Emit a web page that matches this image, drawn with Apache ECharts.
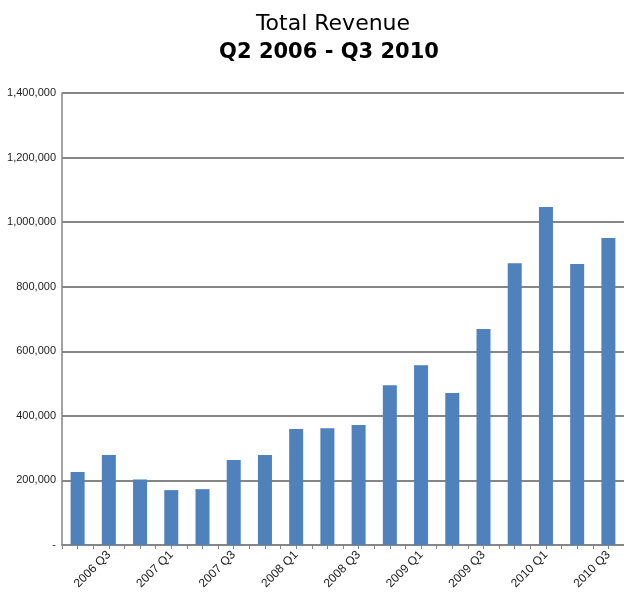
<!DOCTYPE html>
<html>
<head>
<meta charset="utf-8">
<script src="https://cdn.jsdelivr.net/npm/echarts@6/dist/echarts.min.js"></script>
<style>
  html, body { margin: 0; padding: 0; background: #fff; }
  #totalRevenue { width: 624px; height: 596px; }
</style>
</head>
<body>
<div id="totalRevenue"></div>
<script>
const quarters = [
  '2006 Q2', '2006 Q3', '2006 Q4', '2007 Q1', '2007 Q2', '2007 Q3',
  '2007 Q4', '2008 Q1', '2008 Q2', '2008 Q3', '2008 Q4', '2009 Q1',
  '2009 Q2', '2009 Q3', '2009 Q4', '2010 Q1', '2010 Q2', '2010 Q3'
]
const revenue = [
  226000, 279000, 203000, 170000, 173000, 263000,
  279000, 359000, 362000, 372000, 495000, 557000,
  471000, 669000, 873000, 1047000, 870000, 951000
]
const yTicks = [0, 200000, 400000, 600000, 800000, 1000000, 1200000, 1400000]

const chart = echarts.init(document.getElementById('totalRevenue'))

function formatTick(v) {
  if (v === 0) return '-'
  return v.toLocaleString('en-US')
}

const optionData = {
  animation: false,
  title: [
    {
      text: 'Total Revenue',
      left: 328,
      textAlign: 'center',
      top: 8,
      textStyle: { fontFamily: 'DejaVu Sans', fontSize: 22, fontWeight: 'normal', color: '#000' }
    },
    {
      text: 'Q2 2006 - Q3 2010',
      left: 324,
      textAlign: 'center',
      top: 37,
      textStyle: { fontFamily: 'DejaVu Sans', fontSize: 21, fontWeight: 'bold', color: '#000' }
    }
  ],
  grid: {
    left: 62,
    right: 0,
    top: 93,
    bottom: 51
  },
  xAxis: [
    {
      type: 'category',
      data: quarters,
      axisLine: { lineStyle: { color: '#868686', width: 2 } },
      axisTick: { show: true, interval: 0, length: 4, lineStyle: { color: '#868686' } },
      axisLabel: {
        interval: function(index) { return index % 2 === 1 },
        rotate: 45,
        fontFamily: 'Liberation Sans',
        fontSize: 12,
        color: '#222',
        margin: 8
      }
    },
    {
      // second axis only to draw the tick in the middle of every bar
      type: 'category',
      data: quarters,
      position: 'bottom',
      axisLine: { show: false },
      axisTick: { show: true, interval: 0, alignWithLabel: true, length: 4, lineStyle: { color: '#868686' } },
      axisLabel: { show: false }
    }
  ],
  yAxis: {
    type: 'value',
    min: 0,
    max: yTicks[yTicks.length - 1],
    interval: 200000,
    axisLine: { show: true, lineStyle: { color: '#868686', width: 1.5 } },
    axisTick: { show: false },
    splitLine: { lineStyle: { color: '#868686', width: 2 } },
    axisLabel: {
      formatter: formatTick,
      fontFamily: 'Liberation Sans',
      fontSize: 11,
      color: '#222',
      margin: 6
    }
  },
  series: [{
    type: 'bar',
    data: revenue,
    barWidth: 14,
    itemStyle: {
      color: '#4f81bd'
    }
  }]
}

chart.setOption(optionData)
</script>
</body>
</html>
